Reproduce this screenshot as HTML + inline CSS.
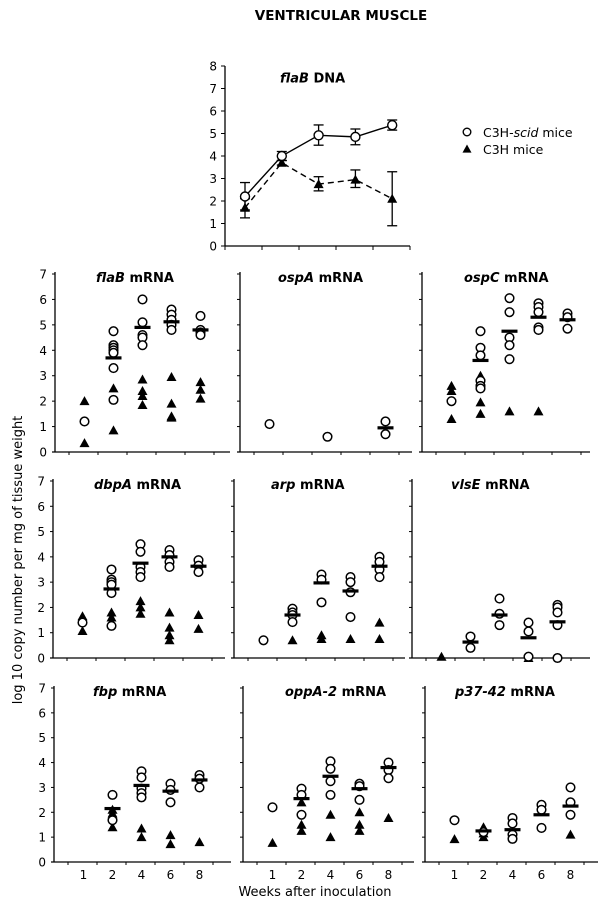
<!DOCTYPE html>
<html><head><meta charset="utf-8"><style>
html,body{margin:0;padding:0;background:#fff;}
svg{display:block;font-family:"DejaVu Sans","Liberation Sans",sans-serif;}
</style></head><body>
<svg id="fig" width="613" height="907" viewBox="0 0 613 907" xmlns="http://www.w3.org/2000/svg">
<text x="341" y="20" text-anchor="middle" font-weight="bold" font-size="13.5">VENTRICULAR MUSCLE</text>
<text transform="translate(22,560) rotate(-90)" text-anchor="middle" font-size="13">log 10 copy number per mg of tissue weight</text>
<text x="315" y="896" text-anchor="middle" font-size="13">Weeks after inoculation</text>
<g id="top"></g>
<g id="panels"></g>
</svg>
<script>
// ---------- top chart data ----------
const topWeeks = ['1','2','4','6','8'];
const topScidMean = [2.2, 4.0, 4.92, 4.85, 5.37];
const topScidLo = [1.6, 3.8, 4.48, 4.5, 5.15];
const topScidHi = [2.82, 4.2, 5.38, 5.2, 5.6];
const topC3hMean = [1.7, 3.7, 2.75, 2.95, 2.1];
const topC3hLo = [1.25, 3.6, 2.45, 2.6, 0.9];
const topC3hHi = [2.1, 3.8, 3.08, 3.38, 3.3];
const topTicks = [0,1,2,3,4,5,6,7,8];

// ---------- scatter panel data (per week: 1,2,4,6,8) ----------
const weeks = ['1','2','4','6','8'];
const yTicks = [0,1,2,3,4,5,6,7];
const flabScid = [[1.2],[4.75,4.2,4.1,4.0,3.9,3.3,2.05],[6.0,5.1,4.6,4.5,4.2],[5.6,5.4,5.2,5.0,4.8],[5.35,4.8,4.7,4.6]];
const flabC3h = [[2.0,0.35],[2.5,0.85],[2.85,2.4,2.2,1.85],[2.95,1.9,1.4,1.35],[2.75,2.45,2.1]];
const flabMean = [null,3.7,4.9,5.12,4.8];
const ospaScid = [[1.1],[],[0.6],[],[1.2,0.7]];
const ospaC3h = [[],[],[],[],[]];
const ospaMean = [null,null,null,null,0.95];
const ospcScid = [[2.0],[4.75,4.1,3.8,2.8,2.6,2.5],[6.05,5.5,4.5,4.2,3.65],[5.85,5.7,5.5,4.9,4.8],[5.45,5.3,4.85]];
const ospcC3h = [[2.6,2.4,1.3],[3.0,2.8,2.6,1.95,1.5],[1.6],[1.6],[]];
const ospcMean = [null,3.6,4.75,5.3,5.2];
const dbpaScid = [[1.4],[3.5,3.1,3.0,2.9,2.57,1.27],[4.5,4.2,3.6,3.4,3.2],[4.27,4.07,3.8,3.6],[3.87,3.65,3.4]];
const dbpaC3h = [[1.65,1.07],[1.8,1.6],[2.25,2.0,1.75],[1.8,1.2,0.9,0.7],[1.7,1.15]];
const dbpaMean = [null,2.73,3.75,4.0,3.63];
const arpScid = [[0.7],[1.95,1.8,1.7,1.42],[3.3,3.1,2.2],[3.2,3.0,2.6,1.62],[4.0,3.8,3.5,3.2]];
const arpC3h = [[],[0.7],[0.9,0.75],[0.75],[1.4,0.75]];
const arpMean = [null,1.7,2.97,2.65,3.63];
const vlseScid = [[],[0.85,0.4],[2.35,1.75,1.3],[1.4,1.05,0.05],[2.1,2.0,1.8,1.3,0.0]];
const vlseC3h = [[0.05],[],[],[0.0],[]];
const vlseMean = [null,0.63,1.7,0.8,1.43];
const fbpScid = [[],[2.7,1.68],[3.65,3.4,2.95,2.77,2.6],[3.15,2.9,2.4],[3.5,3.35,3.0]];
const fbpC3h = [[],[2.1,1.95,1.4],[1.35,1.0],[1.08,0.72],[0.8]];
const fbpMean = [null,2.15,3.08,2.85,3.3];
const oppaScid = [[2.2],[2.95,2.7,1.9],[4.05,3.75,3.25,2.7],[3.15,3.05,2.5],[4.0,3.7,3.37]];
const oppaC3h = [[0.77],[2.4,1.5,1.25],[1.9,1.0],[2.0,1.5,1.25],[1.77]];
const oppaMean = [null,2.55,3.45,2.95,3.8];
const p37Scid = [[1.68],[1.2],[1.77,1.55,1.1,0.93],[2.3,2.1,1.37],[3.0,2.4,1.9]];
const p37C3h = [[0.92],[1.4,1.15,1.0],[],[],[1.1]];
const p37Mean = [null,1.25,1.3,1.9,2.25];

const NS='http://www.w3.org/2000/svg';
function mk(tag, attrs, parent){const e=document.createElementNS(NS,tag);for(const k in attrs)e.setAttribute(k,attrs[k]);parent.appendChild(e);return e;}
function tri(parent,x,y,s){return mk('polygon',{points:`${x},${y-s} ${x-s},${y+s*0.8} ${x+s},${y+s*0.8}`,fill:'#000'},parent);}

// ---------- top chart ----------
(function(){
  const g=document.getElementById('top');
  const ax0=225, ax1=410, y0=246, unit=22.5, x1=245, step=36.8;
  const yS=v=>y0-v*unit, xS=i=>x1+i*step;
  let a=mk('line',{x1:ax0,y1:y0-8*unit,x2:ax0,y2:y0,stroke:'#000','stroke-width':1.3},g);
  
  
  a=mk('line',{x1:ax0,y1:y0,x2:ax1,y2:y0,stroke:'#000','stroke-width':1.3},g);
  
  
  topTicks.forEach(t=>{
    mk('line',{x1:ax0-4,y1:yS(t),x2:ax0,y2:yS(t),stroke:'#000'},g);
    const tx=mk('text',{x:ax0-8,y:yS(t)+4.5,'text-anchor':'end','font-size':12},g);tx.textContent=t;
    
    
  });
  for(let i=0;i<=5;i++){const x=ax0+i*(ax1-ax0)/5;mk('line',{x1:x,y1:y0,x2:x,y2:y0+4,stroke:'#000'},g);}
  const t=mk('text',{x:280,y:yS(7.5)+5,'font-size':13,'font-weight':'bold'},g);
  t.innerHTML='<tspan font-style="italic">flaB</tspan>  DNA';
  
  
  const c3hPts=topC3hMean.map((v,i)=>`${xS(i)},${yS(v)}`).join(' ');
  let l=mk('polyline',{points:c3hPts,fill:'none',stroke:'#000','stroke-width':1.4,'stroke-dasharray':'6,4'},g);
  
  
  const scPts=topScidMean.map((v,i)=>`${xS(i)},${yS(v)}`).join(' ');
  l=mk('polyline',{points:scPts,fill:'none',stroke:'#000','stroke-width':1.4},g);
  
  
  function eb(lo,hi,i){const x=xS(i);mk('line',{x1:x,y1:yS(lo),x2:x,y2:yS(hi),stroke:'#000','stroke-width':1.3},g);
    mk('line',{x1:x-5,y1:yS(lo),x2:x+5,y2:yS(lo),stroke:'#000','stroke-width':1.3},g);
    mk('line',{x1:x-5,y1:yS(hi),x2:x+5,y2:yS(hi),stroke:'#000','stroke-width':1.3},g);}
  topWeeks.forEach((w,i)=>{eb(topScidLo[i],topScidHi[i],i);eb(topC3hLo[i],topC3hHi[i],i);});
  topC3hMean.forEach((v,i)=>{const p=tri(g,xS(i),yS(v),5);
    
    });
  topScidMean.forEach((v,i)=>{const c=mk('circle',{cx:xS(i),cy:yS(v),r:4.5,fill:'#fff',stroke:'#000','stroke-width':1.4},g);
    
    });
  // legend
  let c=mk('circle',{cx:467,cy:132,r:3.8,fill:'#fff',stroke:'#000','stroke-width':1.4},g);
  
  
  let lt=mk('text',{x:483,y:137,'font-size':12.5},g);lt.innerHTML='C3H-<tspan font-style="italic">scid</tspan>  mice';
  
  
  c=tri(g,467,149,4.5);
  
  
  lt=mk('text',{x:483,y:154,'font-size':12.5},g);lt.textContent='C3H mice';
  
  
})();

// ---------- scatter panels ----------
const panels=[
 {it:'flaB',name:'flab-mrna',scid:flabScid,c3h:flabC3h,mean:flabMean,ax:55,end:230,y0:452,y7:274,labels:true,xl:false,tx:96},
 {it:'ospA',name:'ospa-mrna',scid:ospaScid,c3h:ospaC3h,mean:ospaMean,ax:240,end:412,y0:452,y7:274,labels:false,xl:false,tx:278},
 {it:'ospC',name:'ospc-mrna',scid:ospcScid,c3h:ospcC3h,mean:ospcMean,ax:422,end:590,y0:452,y7:274,labels:false,xl:false,tx:464},
 {it:'dbpA',name:'dbpa-mrna',scid:dbpaScid,c3h:dbpaC3h,mean:dbpaMean,ax:53,end:225,y0:658,y7:481,labels:true,xl:false,tx:94},
 {it:'arp',name:'arp-mrna',scid:arpScid,c3h:arpC3h,mean:arpMean,ax:234,end:405,y0:658,y7:481,labels:false,xl:false,tx:271},
 {it:'vlsE',name:'vlse-mrna',scid:vlseScid,c3h:vlseC3h,mean:vlseMean,ax:412,end:590,y0:658,y7:481,labels:false,xl:false,tx:451},
 {it:'fbp',name:'fbp-mrna',scid:fbpScid,c3h:fbpC3h,mean:fbpMean,ax:54,end:231,y0:862,y7:688,labels:true,xl:true,tx:93},
 {it:'oppA-2',name:'oppa2-mrna',scid:oppaScid,c3h:oppaC3h,mean:oppaMean,ax:243,end:414,y0:862,y7:688,labels:false,xl:true,tx:285},
 {it:'p37-42',name:'p37-42-mrna',scid:p37Scid,c3h:p37C3h,mean:p37Mean,ax:425,end:598,y0:862,y7:688,labels:false,xl:true,tx:455},
];
const P=document.getElementById('panels');
panels.forEach(p=>{
  const g=mk('g',{},P);
  
  
  const unit=(p.y0-p.y7)/7;
  const yS=v=>p.y0-v*unit, xS=i=>p.ax+29.5+i*29;
  mk('line',{x1:p.ax,y1:p.y7-2,x2:p.ax,y2:p.y0,stroke:'#000','stroke-width':1.3},g);
  mk('line',{x1:p.ax-3,y1:p.y0,x2:p.end,y2:p.y0,stroke:'#000','stroke-width':1.3},g);
  yTicks.forEach(t=>{
    mk('line',{x1:p.ax-3,y1:yS(t),x2:p.ax,y2:yS(t),stroke:'#000'},g);
    if(p.labels){const tx=mk('text',{x:p.ax-8,y:yS(t)+4.5,'text-anchor':'end','font-size':12},g);tx.textContent=t;
      
      }
  });
  for(let i=0;i<6;i++){const x=p.ax+i*29+14;mk('line',{x1:x,y1:p.y0,x2:x,y2:p.y0+3,stroke:'#000'},g);}
  if(p.xl) weeks.forEach((w,i)=>{const tx=mk('text',{x:xS(i),y:p.y0+17,'text-anchor':'middle','font-size':12},g);tx.textContent=w;
    
    });
  const t=mk('text',{x:p.tx,y:p.y7+8,'font-size':13,'font-weight':'bold'},g);
  t.innerHTML=`<tspan font-style="italic">${p.it}</tspan>  mRNA`;
  
  
  p.c3h.forEach((arr,i)=>arr.forEach(v=>{const m=tri(g,xS(i),yS(v),5);
    
    }));
  p.scid.forEach((arr,i)=>arr.forEach(v=>{const c=mk('circle',{cx:xS(i),cy:yS(v),r:4.3,fill:'#fff',stroke:'#000','stroke-width':1.5},g);
    
    }));
  p.mean.forEach((v,i)=>{if(v===null)return;const r=mk('rect',{x:xS(i)-8,y:yS(v)-1.6,width:16,height:3.2,fill:'#000'},g);
    
    });
});
</script>
</body></html>
